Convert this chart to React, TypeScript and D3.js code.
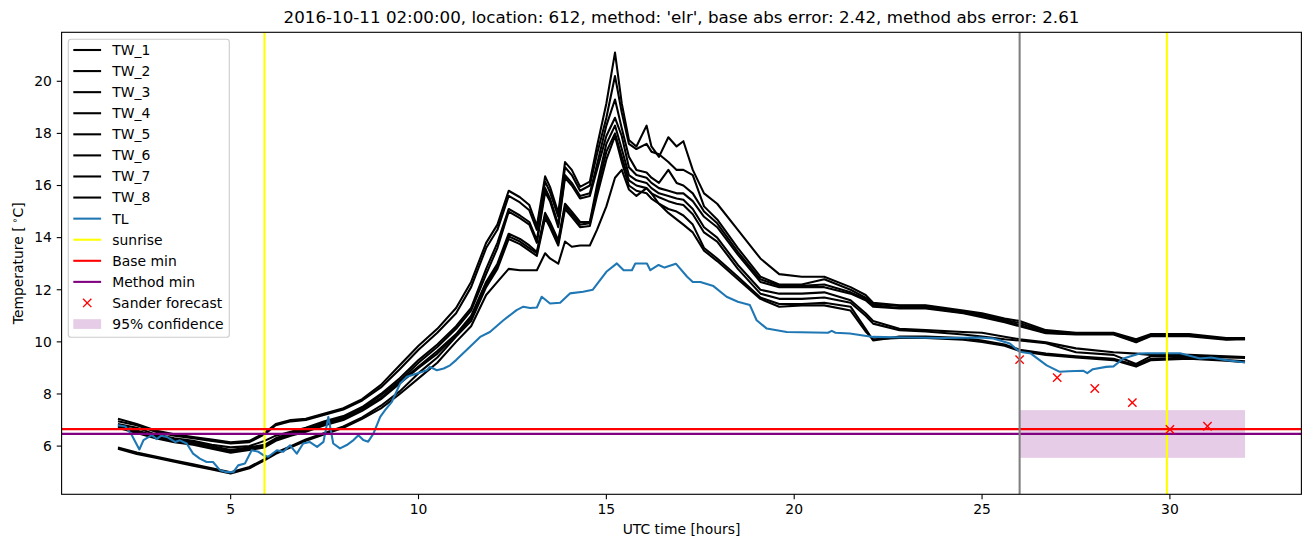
import React from "react";
import * as d3 from "d3";

// ---------- data ----------
const T = [
  2.0, 2.5, 3.0, 3.5, 4.0, 4.5, 5.0, 5.5, 5.9, 6.2, 6.6, 7.0, 7.5,
  8.0, 8.5, 9.0, 9.5, 10.0, 10.5, 11.0, 11.4, 11.8, 12.1,
  12.4, 12.7, 12.95, 13.15, 13.37, 13.5, 13.72, 13.9, 14.08, 14.3, 14.56, 14.75,
  15.0, 15.23, 15.41,
  15.6, 15.8, 16.07, 16.2, 16.4, 16.65, 16.87, 17.05, 17.3, 17.6, 17.95, 18.5,
  19.1, 19.6, 20.2, 20.8, 21.5, 21.9, 22.1, 22.8, 23.5, 24.5, 25.0, 25.6, 26.0, 26.7, 27.5, 28.5, 29.1, 29.5, 30.5, 31.5, 32.0,
];

const TW_1 = [
  7.05, 6.85, 6.6, 6.45, 6.35, 6.25, 6.15, 6.2, 6.5, 6.85, 7.0, 7.05, 7.25,
  7.45, 7.8, 8.35, 9.1, 9.85, 10.5, 11.3, 12.3, 13.8, 14.5,
  15.8, 15.55, 15.25, 14.45, 16.35, 15.95, 14.95, 16.9, 16.6, 15.95, 16.15, 17.5,
  19.15, 21.1, 19.15,
  17.75, 17.5, 18.3, 17.5, 17.1, 17.85, 17.5, 17.7, 16.6, 15.7, 15.3, 14.3,
  13.2, 12.6, 12.5, 12.5, 12.1, 11.8, 11.5, 11.4, 11.4, 11.2, 11.1, 10.9, 10.8, 10.45, 10.35, 10.35, 10.1, 10.3, 10.3, 10.15, 10.15,
];
const TW_2 = [
  6.95, 6.8, 6.55, 6.4, 6.3, 6.2, 6.1, 6.15, 6.45, 6.8, 6.95, 7.0, 7.2,
  7.4, 7.75, 8.25, 8.95, 9.7, 10.35, 11.1, 12.1, 13.6, 14.3,
  15.6, 15.35, 15.05, 14.3, 16.15, 15.75, 14.8, 16.7, 16.4, 15.8, 16.0, 17.2,
  18.6, 20.2, 18.8,
  17.6, 17.4, 17.6, 17.3, 17.2, 16.9, 16.6, 16.6, 16.4, 15.2, 14.7, 13.6,
  12.5, 12.2, 12.2, 12.4, 12.0, 11.7, 11.45, 11.38, 11.38, 11.15, 11.05, 10.85, 10.72, 10.4, 10.33, 10.32, 10.0, 10.28, 10.28, 10.1, 10.12,
];
const TW_3 = [
  6.85, 6.7, 6.45, 6.3, 6.2, 6.05, 5.95, 6.0, 6.2, 6.4, 6.55, 6.7, 6.95,
  7.15, 7.5, 8.0, 8.6, 9.3, 9.9, 10.6, 11.3, 12.8, 13.8,
  15.1, 14.85, 14.6, 13.9, 15.9, 15.5, 14.5, 16.4, 16.1, 15.6, 15.7, 16.8,
  18.3, 19.3, 18.2,
  17.1, 16.6, 16.5, 16.3, 16.1, 16.6, 16.1, 16.0, 15.7, 15.0, 14.55, 13.45,
  12.4, 12.15, 12.15, 12.2, 11.9, 11.65, 11.4, 11.3, 11.32, 11.12, 11.0, 10.8, 10.65, 10.35, 10.3, 10.3, 10.05, 10.25, 10.25, 10.12, 10.1,
];
const TW_4 = [
  6.8, 6.6, 6.4, 6.25, 6.15, 6.0, 5.85, 5.95, 6.05, 6.3, 6.5, 6.65, 6.9,
  7.1, 7.45, 7.95, 8.5, 9.2, 9.8, 10.5, 11.2, 12.6, 13.6,
  15.0, 14.75, 14.5, 13.8, 15.75, 15.4, 14.4, 16.3, 16.0, 15.5, 15.6, 16.6,
  17.9, 18.6, 17.9,
  16.7, 16.4, 16.3, 16.1, 15.9, 15.8, 15.7, 15.7, 15.4, 14.8, 14.4, 13.35,
  12.3, 12.1, 12.1, 12.1, 11.85, 11.6, 11.35, 11.28, 11.28, 11.1, 10.95, 10.75, 10.6, 10.33, 10.28, 10.28, 9.98, 10.22, 10.22, 10.08, 10.1,
];
const TW_5 = [
  6.75, 6.55, 6.35, 6.2, 6.1, 5.95, 5.8, 5.9, 6.0, 6.25, 6.45, 6.6, 6.85,
  7.05, 7.4, 7.85, 8.45, 9.05, 9.65, 10.3, 11.0, 12.3, 13.0,
  14.15, 13.95, 13.7, 13.45, 14.95, 14.6, 13.9, 15.3, 15.0, 14.6, 14.6, 16.0,
  17.6, 18.3, 17.4,
  16.4, 16.2, 16.1, 15.9, 15.7, 15.6, 15.5, 15.45, 15.1, 14.4, 14.0, 12.95,
  12.0, 11.85, 11.85, 11.9, 11.6, 11.1, 10.8, 10.5, 10.45, 10.38, 10.35, 10.2, 10.1, 9.98, 9.75, 9.6, 9.55, 9.5, 9.5, 9.45, 9.42,
];
const TW_6 = [
  6.7, 6.5, 6.3, 6.15, 6.05, 5.9, 5.75, 5.85, 5.95, 6.2, 6.4, 6.55, 6.8,
  7.0, 7.35, 7.8, 8.4, 9.0, 9.55, 10.25, 10.9, 12.2, 12.9,
  14.05, 13.85, 13.6, 13.4, 14.85, 14.5, 13.8, 15.2, 14.9, 14.5, 14.55, 15.8,
  17.3, 18.0, 17.1,
  16.2, 16.0, 15.9, 15.7, 15.55, 15.4, 15.3, 15.25, 14.9, 14.2, 13.85, 12.8,
  11.85, 11.65, 11.65, 11.7, 11.5, 11.0, 10.7, 10.45, 10.4, 10.28, 10.2, 10.1, 10.05, 9.95, 9.6, 9.5, 9.15, 9.45, 9.45, 9.4, 9.38,
];
const TW_7 = [
  5.95, 5.75, 5.6, 5.45, 5.3, 5.15, 5.0, 5.2, 5.5, 5.75, 6.0, 6.25, 6.5,
  6.75, 7.1, 7.55, 8.1, 8.8, 9.4, 10.2, 10.8, 12.1, 12.8,
  13.95, 13.75, 13.5, 13.3, 14.75, 14.4, 13.7, 15.1, 14.8, 14.4, 14.45, 15.6,
  17.0, 17.9, 16.9,
  16.0, 15.8, 15.7, 15.5, 15.3, 15.1, 15.0, 14.85, 14.5, 13.6, 13.2, 12.5,
  11.7, 11.45, 11.45, 11.5, 11.35, 10.5, 10.05, 10.2, 10.2, 10.15, 10.05, 9.9, 9.7, 9.55, 9.45, 9.35, 9.1, 9.35, 9.4, 9.3, 9.25,
];
const TW_8 = [
  5.9, 5.7, 5.55, 5.4, 5.25, 5.1, 4.95, 5.15, 5.45, 5.7, 5.95, 6.2, 6.45,
  6.7, 7.05, 7.45, 8.0, 8.6, 9.2, 10.0, 10.6, 11.8, 12.3,
  12.8, 12.75, 12.75, 12.75, 13.4, 13.2, 13.0, 13.85, 13.65, 13.7, 13.7, 14.3,
  15.2, 16.3, 16.6,
  15.85, 15.6, 15.9, 15.7, 15.3, 14.95, 14.7, 14.5, 14.2, 13.5, 13.1, 12.4,
  11.65, 11.35, 11.4, 11.4, 11.2, 10.4, 10.1, 10.15, 10.15, 10.08, 10.0, 9.85, 9.65, 9.5, 9.4, 9.3, 9.05, 9.3, 9.35, 9.28, 9.22,
];

const TL_T = [
  2.0, 2.2, 2.37, 2.57, 2.68, 2.9, 3.03, 3.15, 3.3, 3.52, 3.65, 3.83, 4.0, 4.18, 4.36, 4.53, 4.72, 4.9, 5.07, 5.2,
  5.38, 5.56, 5.74, 5.87, 6.0, 6.23, 6.4, 6.58, 6.76, 6.93, 7.1, 7.3, 7.47, 7.6, 7.73, 7.91, 8.09, 8.27, 8.4, 8.53,
  8.66, 8.8, 8.98, 9.11, 9.29, 9.51, 9.69, 9.96, 10.22, 10.3, 10.49, 10.67, 10.84, 11.0, 11.37, 11.64, 11.9, 12.26, 12.61, 12.79,
  12.97, 13.15, 13.28, 13.5, 13.77, 14.03, 14.38, 14.64, 15.0, 15.28, 15.46, 15.68, 15.77, 16.08, 16.17, 16.39, 16.55, 16.85, 17.15, 17.3,
  17.5, 17.85, 18.2, 18.5, 18.82, 19.0, 19.27, 19.8, 20.9, 21.0, 21.1, 21.48, 22.1, 23.0, 24.0, 24.94, 25.3, 25.74, 26.0, 26.3,
  26.72, 27.07, 27.3, 27.7, 27.8, 27.95, 28.3, 28.5, 28.76, 29.2, 29.4, 29.9, 30.27, 30.45, 30.8, 31.1, 31.5, 31.9, 32.0,
];
const TL_V = [
  6.8, 6.75, 6.42, 5.87, 6.23, 6.42, 6.27, 6.4, 6.35, 6.16, 6.22, 6.1, 5.71, 5.52, 5.39, 5.39, 5.07, 5.0, 5.0, 5.26,
  5.33, 5.84, 5.78, 5.65, 5.59, 5.84, 5.78, 6.03, 5.71, 6.1, 6.16, 5.97, 6.16, 7.12, 6.1, 5.91, 6.04, 6.23, 6.42, 6.23,
  6.17, 6.48, 7.12, 7.38, 7.7, 8.4, 8.66, 8.79, 8.91, 9.04, 8.91, 8.98, 9.1, 9.3, 9.81, 10.19, 10.38, 10.83, 11.22, 11.35,
  11.3, 11.32, 11.73, 11.47, 11.5, 11.86, 11.92, 12.0, 12.69, 13.01, 12.75, 12.75, 13.01, 13.01, 12.75, 12.95, 12.85, 13.0, 12.5, 12.3,
  12.3, 12.14, 11.73, 11.54, 11.41, 10.83, 10.51, 10.38, 10.35, 10.42, 10.35, 10.32, 10.19, 10.17, 10.15, 10.17, 10.13, 9.94, 9.62, 9.55,
  9.1, 8.85, 8.87, 8.89, 8.8, 8.95, 9.04, 9.06, 9.36, 9.55, 9.56, 9.56, 9.56, 9.5, 9.36, 9.4, 9.3, 9.23, 9.22,
];

const TW_SERIES = [TW_1, TW_2, TW_3, TW_4, TW_5, TW_6, TW_7, TW_8];
const TW_NAMES = ["TW_1", "TW_2", "TW_3", "TW_4", "TW_5", "TW_6", "TW_7", "TW_8"];

const SUNRISE = [5.9, 29.92];
const BASE_MIN = 6.65;
const METHOD_MIN = 6.47;
const FORECAST_START = 26;
const FORECAST_T = [26, 27, 28, 29, 30, 31];
const FORECAST_V = [9.32, 8.63, 8.21, 7.67, 6.64, 6.76];
const CONF_T = [26, 32];
const CONF_LO = 5.55;
const CONF_HI = 7.38;

const X_TICKS = [5, 10, 15, 20, 25, 30];
const Y_TICKS = [6, 8, 10, 12, 14, 16, 18, 20];

const TITLE =
  "2016-10-11 02:00:00, location: 612, method: 'elr', base abs error: 2.42, method abs error: 2.61";

// ---------- layout ----------
const W = 1311;
const H = 547;
const L = 61.6;
const R = 1301.4;
const TOP = 32.3;
const BOT = 494.3;
const FS = 13.9;
const FONT = "DejaVu Sans, sans-serif";

export default function App() {
  const x = d3.scaleLinear().domain([0.5, 33.5]).range([L, R]);
  const y = d3.scaleLinear().domain([4.15, 21.88]).range([BOT, TOP]);

  const mkLine = (ts: number[], vs: number[]) =>
    d3
      .line<number>()
      .x((_, i) => x(ts[i]))
      .y((v) => y(v))(vs) || "";

  const blue = "#1f77b4";
  const lw = 2.08;

  const legendItems: { label: string; kind: string; color: string }[] = [
    ...TW_NAMES.map((n) => ({ label: n, kind: "line", color: "#000" })),
    { label: "TL", kind: "line", color: blue },
    { label: "sunrise", kind: "line", color: "yellow" },
    { label: "Base min", kind: "line", color: "red" },
    { label: "Method min", kind: "line", color: "purple" },
    { label: "Sander forecast", kind: "marker", color: "red" },
    { label: "95% confidence", kind: "patch", color: "purple" },
  ];

  const mk = 4.17;
  const cross = (cx: number, cy: number, key: string) => (
    <g key={key} stroke="red" strokeWidth={1.4}>
      <line x1={cx - mk} y1={cy - mk} x2={cx + mk} y2={cy + mk} />
      <line x1={cx - mk} y1={cy + mk} x2={cx + mk} y2={cy - mk} />
    </g>
  );

  return (
    <svg
      width={W}
      height={H}
      style={{ position: "absolute", left: 0, top: 0, background: "#fff" }}
      fontFamily={FONT}
    >
      <rect x={0} y={0} width={W} height={H} fill="#fff" />
      <defs>
        <clipPath id="plotclip">
          <rect x={L} y={TOP} width={R - L} height={BOT - TOP} />
        </clipPath>
      </defs>

      <g clipPath="url(#plotclip)">
        {/* confidence band */}
        <rect
          x={x(CONF_T[0])}
          y={y(CONF_HI)}
          width={x(CONF_T[1]) - x(CONF_T[0])}
          height={y(CONF_LO) - y(CONF_HI)}
          fill="purple"
          fillOpacity={0.2}
        />
        {TW_SERIES.map((s, i) => (
          <path
            key={TW_NAMES[i]}
            d={mkLine(T, s)}
            fill="none"
            stroke="#000"
            strokeWidth={lw}
            strokeLinejoin="round"
          />
        ))}
        <path d={mkLine(TL_T, TL_V)} fill="none" stroke={blue} strokeWidth={lw} strokeLinejoin="round" />
        {SUNRISE.map((s, i) => (
          <line key={"sr" + i} x1={x(s)} x2={x(s)} y1={TOP} y2={BOT} stroke="yellow" strokeWidth={lw} />
        ))}
        <line x1={L} x2={R} y1={y(BASE_MIN)} y2={y(BASE_MIN)} stroke="red" strokeWidth={lw} />
        <line x1={L} x2={R} y1={y(METHOD_MIN)} y2={y(METHOD_MIN)} stroke="purple" strokeWidth={lw} />
        {FORECAST_T.map((t, i) => cross(x(t), y(FORECAST_V[i]), "f" + i))}
        <line
          x1={x(FORECAST_START)}
          x2={x(FORECAST_START)}
          y1={TOP}
          y2={BOT}
          stroke="gray"
          strokeWidth={lw}
        />
      </g>

      {/* spines */}
      <rect x={L} y={TOP} width={R - L} height={BOT - TOP} fill="none" stroke="#000" strokeWidth={1.1} />

      {/* x ticks */}
      {X_TICKS.map((t) => (
        <g key={"xt" + t}>
          <line x1={x(t)} x2={x(t)} y1={BOT} y2={BOT + 4.86} stroke="#000" strokeWidth={1.1} />
          <text x={x(t)} y={BOT + 20} fontSize={FS} textAnchor="middle" fill="#000">
            {t}
          </text>
        </g>
      ))}
      {/* y ticks */}
      {Y_TICKS.map((t) => (
        <g key={"yt" + t}>
          <line x1={L - 4.86} x2={L} y1={y(t)} y2={y(t)} stroke="#000" strokeWidth={1.1} />
          <text
            x={L - 9.7}
            y={y(t)}
            dy="0.35em"
            fontSize={FS}
            textAnchor="end"
            fill="#000"
          >
            {t}
          </text>
        </g>
      ))}

      {/* labels */}
      <text x={(L + R) / 2} y={534} fontSize={FS} textAnchor="middle" fill="#000">
        UTC time [hours]
      </text>
      <text
        transform={`translate(22.5, ${(TOP + BOT) / 2}) rotate(-90)`}
        fontSize={FS}
        textAnchor="middle"
        fill="#000"
      >
        Temperature [{"\u2009"}
        <tspan fontSize={9.7} dy={-5}>
          {"\u2218"}
        </tspan>
        <tspan dy={5}>C]</tspan>
      </text>
      <text x={(L + R) / 2} y={23} fontSize={16.7} textAnchor="middle" fill="#000">
        {TITLE}
      </text>

      {/* legend */}
      <g>
        <rect
          x={68.3}
          y={39.3}
          width={161}
          height={298}
          rx={2.8}
          fill="#fff"
          fillOpacity={0.8}
          stroke="#cccccc"
          strokeWidth={1.1}
        />
        {legendItems.map((it, i) => {
          const cy = 50 + i * 21.08;
          const hx0 = 73.3;
          const hx1 = 101.1;
          let handle;
          if (it.kind === "line") {
            handle = <line x1={hx0} x2={hx1} y1={cy} y2={cy} stroke={it.color} strokeWidth={lw} />;
          } else if (it.kind === "marker") {
            handle = cross((hx0 + hx1) / 2, cy, "lm");
          } else {
            handle = (
              <rect x={hx0} y={cy - 4.87} width={hx1 - hx0} height={9.73} fill={it.color} fillOpacity={0.2} />
            );
          }
          return (
            <g key={"lg" + i}>
              {handle}
              <text x={112.3} y={cy} dy="0.35em" fontSize={FS} fill="#000">
                {it.label}
              </text>
            </g>
          );
        })}
      </g>
    </svg>
  );
}
